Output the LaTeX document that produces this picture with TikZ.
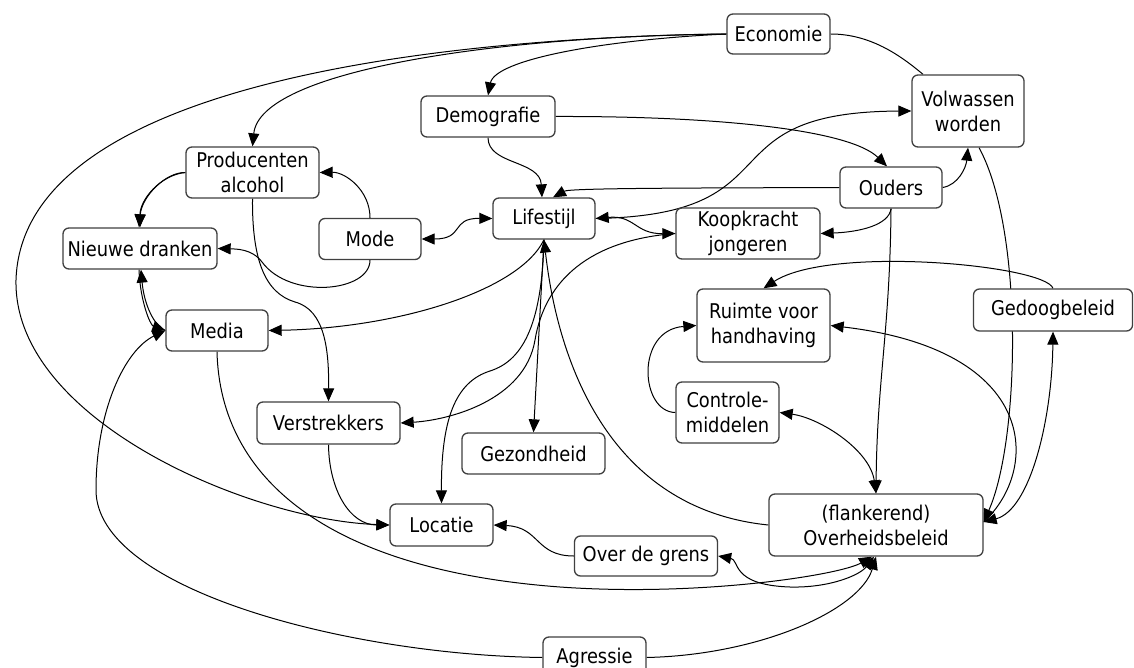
\documentclass[tikz,border=0pt]{standalone}
\usepackage{fontspec}
\setmainfont{DejaVu Sans}[FakeStretch=0.88]
\usetikzlibrary{arrows.meta,backgrounds}
\tikzset{
  box/.style={draw=black!75, line width=1.3pt, rounded corners=6pt, fill=white,
    align=center, inner sep=0pt, font=\fontsize{20.3}{25}\selectfont},
  link/.style={line width=1pt, -{Triangle[length=13pt,width=11pt]}},
  blink/.style={line width=1pt, {Triangle[length=13pt,width=11pt]}-{Triangle[length=13pt,width=11pt]}},
  nolink/.style={line width=1pt},
}
\begin{document}
\begin{tikzpicture}[x=1pt,y=-1pt]
\useasboundingbox (0,0) rectangle (1134,668);
% nodes
\node[box, minimum width=103pt, minimum height=40pt] (eco) at (778.5,34) {Economie};
\node[box, minimum width=112pt, minimum height=72pt] (vol) at (968,111) {Volwassen\\worden};
\node[box, minimum width=134pt, minimum height=41pt] (dem) at (488,116.5) {Demografie};
\node[box, minimum width=133pt, minimum height=51pt] (prod) at (252.5,172.5) {Producenten\\alcohol};
\node[box, minimum width=102pt, minimum height=41pt] (oud) at (891,187.5) {Ouders};
\node[box, minimum width=102pt, minimum height=41pt] (mode) at (370,239) {Mode};
\node[box, minimum width=102pt, minimum height=41pt] (life) at (544,218.5) {Lifestijl};
\node[box, minimum width=144pt, minimum height=51pt] (koop) at (748,233.5) {Koopkracht\\jongeren};
\node[box, minimum width=154pt, minimum height=41pt] (nieuw) at (140,248.5) {Nieuwe dranken};
\node[box, minimum width=102pt, minimum height=41pt] (media) at (217,330.5) {Media};
\node[box, minimum width=133pt, minimum height=73pt] (ruim) at (763.5,325.5) {Ruimte voor\\handhaving};
\node[box, minimum width=159pt, minimum height=42pt] (gedoog) at (1053,310) {Gedoogbeleid};
\node[box, minimum width=103pt, minimum height=61pt] (contr) at (727.5,412.5) {Controle-\\middelen};
\node[box, minimum width=143pt, minimum height=42pt] (verst) at (328.5,423) {Verstrekkers};
\node[box, minimum width=143pt, minimum height=41pt] (gez) at (533.5,453.5) {Gezondheid};
\node[box, minimum width=103pt, minimum height=42pt] (loc) at (441.5,525) {Locatie};
\node[box, minimum width=214pt, minimum height=62pt] (overh) at (876,525) {(flankerend)\\Overheidsbeleid};
\node[box, minimum width=143pt, minimum height=40pt] (grens) at (646,556) {Over de grens};
\node[box, minimum width=103pt, minimum height=41pt] (agr) at (594.5,657.5) {Agressie};

\begin{pgfonlayer}{background}
\fill[white] (0,0) rectangle (1134,668);
% Economie
\draw[link] (eco.west) .. controls (600,40) and (495,60) .. (dem.north);
\draw[link] (eco.west) .. controls (500,36) and (260,70) .. (prod.north);
\draw[link] (eco.west) .. controls (430,38) and (22,85) .. (16,280)
   .. controls (13,420) and (250,520) .. (loc.west);
\draw[nolink] (eco.east) .. controls (870,34) and (900,55) .. ([xshift=-45pt]vol.north);
% Demografie
\draw[link] (dem.south) .. controls (488,165) and (540,160) .. ([xshift=-2pt]life.north);
\draw[link] (dem.east) .. controls (720,116) and (850,130) .. ([xshift=-4pt]oud.north);
% Ouders
\draw[link] (oud.west) .. controls (700,188) and (570,188) .. ([xshift=9pt]life.north);
\draw[link] (oud.east) .. controls (958,185) and (966,168) .. (vol.south);
\draw[link] (oud.south) .. controls (889,225) and (860,232) .. (koop.east);
\draw[link] (oud.south) .. controls (890,330) and (877,380) .. (overh.north);
% Lifestijl
\draw[link] (life.east) .. controls (800,215) and (700,112) .. (vol.west);
\draw[blink] (life.east) .. controls (635,215) and (635,234) .. (koop.west);
\draw[blink] (mode.east) .. controls (465,239) and (450,218) .. (life.west);
\draw[link] (life.south) .. controls (520,290) and (400,328) .. (media.east);
\draw[link] (life.south) .. controls (542,320) and (525,360) .. (490,371)
   .. controls (455,382) and (441,420) .. (loc.north);
\draw[link] (life.south) -- (gez.north);
\draw[link] (overh.west) .. controls (620,510) and (560,380) .. (life.south);
% Koopkracht
\draw[link] (koop.west) .. controls (590,240) and (545,280) .. (535,340)
   .. controls (525,400) and (450,420) .. (verst.east);
% Volwassen, Gedoogbeleid, Ruimte
\draw[link] ([xshift=11pt]vol.south) .. controls (1024,230) and (1020,440) .. ([yshift=3pt]overh.east);
\draw[blink] (gedoog.south) .. controls (1052,420) and (1030,510) .. ([yshift=3pt]overh.east);
\draw[link] ([yshift=3pt]overh.east) .. controls (1040,470) and (1040,350) .. (ruim.east);
\draw[link] (gedoog.north) .. controls (1045,265) and (830,245) .. (ruim.north);
\draw[link] (contr.west) .. controls (640,412) and (635,330) .. (ruim.west);
\draw[blink] (contr.east) .. controls (820,418) and (870,450) .. (overh.north);
% Mode, Producenten, Nieuwe dranken, Media
\draw[link] (mode.north) .. controls (370,190) and (345,172) .. (prod.east);
\draw[link] (mode.south) .. controls (370,292) and (290,300) .. (262,262)
   .. controls (252,248.5) and (235,249) .. (nieuw.east);
\draw[link] (prod.west) .. controls (160,175) and (140,200) .. (nieuw.north);
\draw[link] (prod.west) .. controls (166,172) and (142,196) .. ([xshift=-1pt]nieuw.north);
\draw[link] (prod.south) .. controls (252,260) and (265,293) .. (295,302)
   .. controls (325,310) and (329,350) .. (verst.north);
\draw[link] ([xshift=-1pt]nieuw.south) .. controls (140,300) and (150,325) .. (media.west);
\draw[link] (media.west) .. controls (154,326) and (144,304) .. ([xshift=1pt]nieuw.south);
% Locatie
\draw[link] (verst.south) .. controls (329,490) and (350,525) .. (loc.west);
\draw[link] (grens.west) .. controls (535,556) and (540,527) .. (loc.east);
% Overheidsbeleid bottom
\draw[link] (media.south) .. controls (220,480) and (330,570) .. (560,587)
   .. controls (700,597) and (840,575) .. ([xshift=-4pt]overh.south);
\draw[blink] (grens.east) .. controls (740,560) and (730,585) .. (790,587)
   .. controls (830,588) and (860,575) .. ([xshift=-2pt]overh.south);
\draw[link] (agr.east) .. controls (760,655) and (860,610) .. (overh.south);
\draw[link] (agr.west) .. controls (350,655) and (96,590) .. (96,490)
   .. controls (96,410) and (125,350) .. (media.west);
\end{pgfonlayer}
\end{tikzpicture}
\end{document}
